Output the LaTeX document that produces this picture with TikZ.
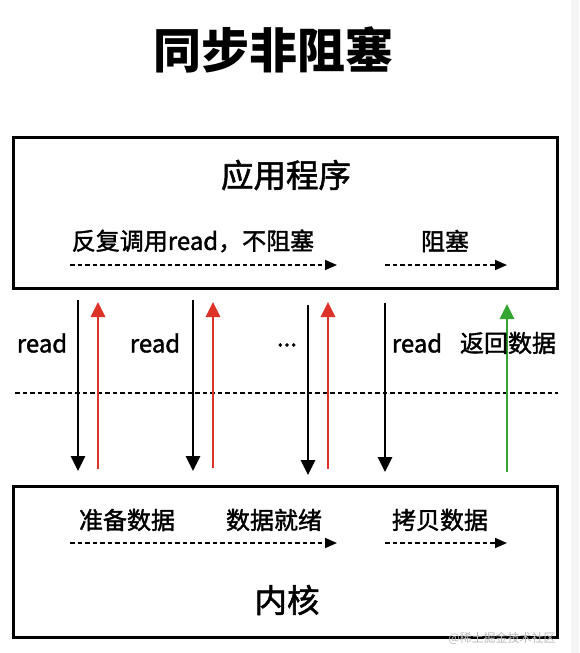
\documentclass[tikz,border=0pt]{standalone}
\usepackage{fontspec}
\setmainfont{Noto Sans CJK SC}
\newfontfamily\medfont[FakeBold=1.6]{Noto Sans CJK SC}
\usetikzlibrary{arrows.meta}
\definecolor{redarr}{RGB}{220,50,40}
\definecolor{greenarr}{RGB}{52,165,50}
\begin{document}
\begin{tikzpicture}[x=1pt,y=-1pt,
  box/.style={draw=black,line width=3pt},
  lbl/.style={inner sep=0pt,font=\medfont\fontsize{24}{26}\selectfont},
  big/.style={inner sep=0pt,font=\medfont\fontsize{32.5}{35}\selectfont},
  dash arrow/.style={line width=1.8pt,dash pattern=on 4.5pt off 3pt,-{Triangle[width=10pt,length=12pt]}},
  call/.style={line width=2.8pt,-{Triangle[width=14pt,length=15pt]}},
]
\useasboundingbox[fill=white] (0,0) rectangle (579,653);
\fill[gray!8] (571,0) rectangle (579,653);
% title
\node[inner sep=0pt,font=\fontsize{48}{52}\selectfont\bfseries] (title) at (273,50) {同步非阻塞};
% boxes
\node[box,minimum width=544pt,minimum height=151pt,inner sep=0pt] (app) at (285,212.5) {};
\node[box,minimum width=544pt,minimum height=151pt,inner sep=0pt] (kern) at (285,561.5) {};
\node[big] (appt) at (286,175) {应用程序};
\node[big] (kernt) at (287,600) {内核};
\node[lbl] (rep) at (193,241) {反复调用read，不阻塞};
\node[lbl] (blk) at (445,241) {阻塞};
\node[lbl] (prep) at (127,520) {准备数据};
\node[lbl] (ready) at (274,520) {数据就绪};
\node[lbl] (copy) at (440,520) {拷贝数据};
% dashed arrows
\coordinate (a1) at (70,265); \coordinate (a2) at (337,265);
\coordinate (a3) at (385,265); \coordinate (a4) at (507,265);
\coordinate (k1) at (70,543); \coordinate (k2) at (337,543);
\coordinate (k3) at (385,543); \coordinate (k4) at (507,543);
\draw[dash arrow] (a1) -- (a2);
\draw[dash arrow] (a3) -- (a4);
\draw[dash arrow] (k1) -- (k2);
\draw[dash arrow] (k3) -- (k4);
% divider
\coordinate (d1) at (15,393); \coordinate (d2) at (558,393);
\draw[line width=1.6pt,dash pattern=on 4.5pt off 3pt] (d1) -- (d2);
% calls
\coordinate (b1s) at (78,300); \coordinate (b1e) at (78,471);
\coordinate (r1s) at (98,469); \coordinate (r1e) at (98,302);
\coordinate (b2s) at (193,300); \coordinate (b2e) at (193,471);
\coordinate (r2s) at (213,468); \coordinate (r2e) at (213,302);
\coordinate (b3s) at (308,305); \coordinate (b3e) at (308,475);
\coordinate (r3s) at (328,469); \coordinate (r3e) at (328,302);
\coordinate (b4s) at (385,303); \coordinate (b4e) at (385,472);
\coordinate (gs) at (507,472); \coordinate (ge) at (507,304);
\draw[call] (b1s) -- (b1e);
\draw[call,draw=redarr,fill=redarr] (r1s) -- (r1e);
\draw[call] (b2s) -- (b2e);
\draw[call,draw=redarr,fill=redarr] (r2s) -- (r2e);
\draw[call] (b3s) -- (b3e);
\draw[call,draw=redarr,fill=redarr] (r3s) -- (r3e);
\draw[call] (b4s) -- (b4e);
\draw[call,draw=greenarr,fill=greenarr] (gs) -- (ge);
% labels
\node[lbl] (l1) at (42,343) {read};
\node[lbl] (l2) at (155,343) {read};
\node[lbl] (l3) at (287,345) {...};
\node[lbl] (l4) at (417,343) {read};
\node[lbl] (l5) at (508,343) {返回数据};
% watermark
\node[inner sep=0pt,text=gray!55,font=\fontsize{12}{14}\selectfont] (wm) at (502,638) {@稀土掘金技术社区};
\end{tikzpicture}
\end{document}
